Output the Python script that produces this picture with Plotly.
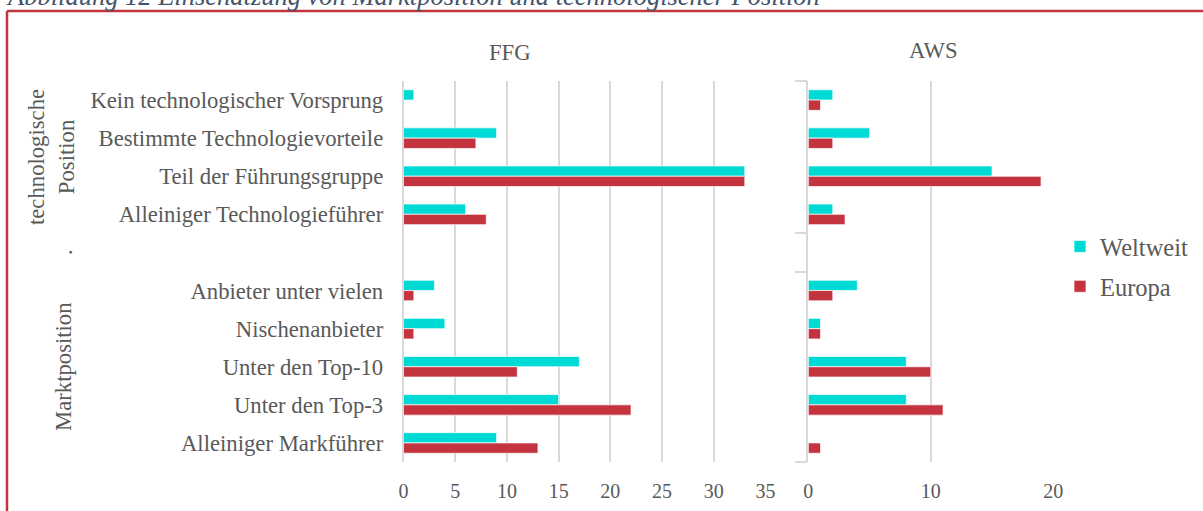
import plotly.graph_objects as go

W, H = 1203, 511

# categories top to bottom; the empty entry is the spacer between the two groups
categories = [
    "Kein technologischer Vorsprung",
    "Bestimmte Technologievorteile",
    "Teil der Führungsgruppe",
    "Alleiniger Technologieführer",
    "",
    "Anbieter unter vielen",
    "Nischenanbieter",
    "Unter den Top-10",
    "Unter den Top-3",
    "Alleiniger Markführer",
]
group_labels = ["technologische<br>Position", ".", "Marktposition"]

ffg_weltweit = [1, 9, 33, 6, None, 3, 4, 17, 15, 9]
ffg_europa = [0, 7, 33, 8, None, 1, 1, 11, 22, 13]
aws_weltweit = [2, 5, 15, 2, None, 4, 1, 8, 8, 0]
aws_europa = [1, 2, 19, 3, None, 2, 1, 10, 11, 1]

CYAN = "#00DAD5"
RED = "#C3343F"
GREY_TXT = "#595959"
GRID = "#D9D9D9"
FONT = "Liberation Serif"


def px(x):
    return x / W


def py(y):
    return 1 - y / H


ypos = list(range(len(categories)))

fig = go.Figure()
for name, vals, color, xa, ya, show in [
    ("Weltweit", ffg_weltweit, CYAN, "x", "y", True),
    ("Europa", ffg_europa, RED, "x", "y", True),
    ("Weltweit", aws_weltweit, CYAN, "x2", "y2", False),
    ("Europa", aws_europa, RED, "x2", "y2", False),
]:
    fig.add_trace(
        go.Bar(
            x=vals,
            y=ypos,
            orientation="h",
            name=name,
            legendgroup=name,
            showlegend=show,
            marker=dict(color=color, line=dict(color="white", width=0.7)),
            xaxis=xa,
            yaxis=ya,
        )
    )

y_dom = [py(462), py(81)]
fig.update_layout(
    width=W,
    height=H,
    autosize=False,
    # no auto-expansion, otherwise the legend squeezes the paper area
    margin=dict(l=0, r=0, t=0, b=0, autoexpand=False),
    paper_bgcolor="white",
    plot_bgcolor="white",
    barmode="group",
    bargap=0.46,
    font=dict(family=FONT, color=GREY_TXT, size=22.7),
    xaxis=dict(
        domain=[px(403.5), px(765.5)],
        range=[0, 35],
        dtick=5,
        showgrid=True,
        gridcolor=GRID,
        gridwidth=1.5,
        zeroline=False,
        tickfont=dict(size=20),
        ticklabelstandoff=15,
        anchor="y",
    ),
    yaxis=dict(
        domain=y_dom,
        range=[9.5, -0.5],
        tickvals=ypos,
        ticktext=categories,
        showgrid=False,
        zeroline=False,
        showline=True,
        linecolor=GRID,
        linewidth=1.5,
        ticklabelstandoff=14,
        tickfont=dict(size=22.7),
        anchor="x",
    ),
    xaxis2=dict(
        domain=[px(808.3), px(1053.3)],
        range=[0, 20],
        dtick=10,
        showgrid=True,
        gridcolor=GRID,
        gridwidth=1.5,
        zeroline=False,
        tickfont=dict(size=20),
        ticklabelstandoff=15,
        anchor="y2",
    ),
    yaxis2=dict(
        domain=y_dom,
        range=[9.5, -0.5],
        tickvals=[-0.5, 3.5, 4.5, 9.5],
        showticklabels=False,
        ticks="outside",
        ticklen=12,
        tickcolor=GRID,
        tickwidth=1.5,
        showgrid=False,
        zeroline=False,
        showline=True,
        linecolor=GRID,
        linewidth=1.5,
        anchor="x2",
    ),
    legend=dict(
        x=px(1060),
        y=py(224),
        xanchor="left",
        yanchor="top",
        font=dict(size=24.5, color=GREY_TXT),
        tracegroupgap=5,
        bgcolor="rgba(0,0,0,0)",
    ),
)

annotations = [
    dict(text="<i>Abbildung 12 Einschätzung von Marktposition und technologischer Position</i>",
         x=px(4), y=py(13), xanchor="left", yanchor="bottom",
         font=dict(size=26.5, color="#44546A")),
    dict(text="FFG", x=px(510), y=py(53), xanchor="center", yanchor="middle"),
    dict(text="AWS", x=px(933), y=py(50), xanchor="center", yanchor="middle"),
    dict(text=group_labels[0], x=px(52), y=py(157), textangle=-90,
         xanchor="center", yanchor="middle"),
    dict(text=group_labels[1], x=px(64), y=py(252), textangle=-90,
         xanchor="center", yanchor="middle"),
    dict(text=group_labels[2], x=px(63), y=py(367), textangle=-90,
         xanchor="center", yanchor="middle"),
]
for a in annotations:
    fig.add_annotation(xref="paper", yref="paper", showarrow=False, **a)

# red frame: only the top and left edges fall inside the crop
frame = dict(color=RED, width=2.5)
fig.add_shape(type="line", xref="paper", yref="paper", x0=px(7), x1=1, y0=py(11), y1=py(11), line=frame)
fig.add_shape(type="line", xref="paper", yref="paper", x0=px(7), x1=px(7), y0=py(11), y1=0, line=frame)

# drop the default page margin and scrollbars so the figure fills the window exactly
page_fix = (
    "document.documentElement.style.overflow='hidden';"
    "document.body.style.margin='0px';"
    "document.body.style.overflow='hidden';"
)
fig.write_html(
    "out.html",
    config={"responsive": False, "displayModeBar": False},
    post_script=page_fix,
)
